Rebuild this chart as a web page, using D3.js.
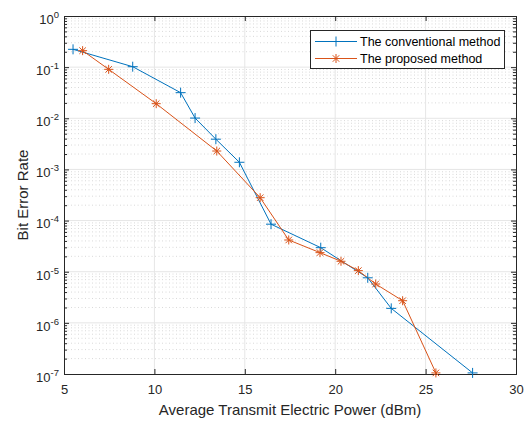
<!DOCTYPE html>
<html><head><meta charset="utf-8">
<script src="https://cdn.jsdelivr.net/npm/d3@7"></script>
<style>body{margin:0;background:#fff;} svg{display:block;font-family:"Liberation Sans",Arial,sans-serif;}</style>
</head><body><svg id="c" width="526" height="421"></svg>
<script>
const convX = [5.5, 8.8, 11.45, 12.25, 13.4, 14.7, 16.45, 19.2, 21.8, 23.1, 27.6];
const convY = [0.223, 0.102, 0.0317, 0.0101, 0.0039, 0.00138, 8.5e-5, 2.95e-5, 7.6e-6, 1.92e-6, 1.05e-7];
const propX = [6.03, 7.47, 10.1, 13.45, 15.85, 17.43, 19.16, 20.32, 21.28, 22.24, 23.73, 25.57];
const propY = [0.21, 0.0906, 0.0193, 0.00229, 2.8e-4, 4.17e-5, 2.36e-5, 1.6e-5, 1.05e-5, 5.75e-6, 2.71e-6, 1.05e-7];
const xTicks = [5, 10, 15, 20, 25, 30];
const yExps = [0, -1, -2, -3, -4, -5, -6, -7];
const seriesNames = ["The conventional method", "The proposed method"];
const colors = ["#0072BD", "#D95319"];

const svg = d3.select("#c");
const L = 64, R = 516, T = 16, B = 374;
const x = d3.scaleLinear().domain([5, 30]).range([L, R]);
const y = d3.scaleLog().domain([1e-7, 1]).range([B, T]);
const axisCol = "#262626";
const FF = "Liberation Sans, Arial, sans-serif";

// minor horizontal grid
const minorVals = [];
for (let e = -7; e < 0; e++) for (let k = 2; k <= 9; k++) minorVals.push(k * Math.pow(10, e));
svg.append("g").selectAll("line").data(minorVals).join("line")
  .attr("x1", L).attr("x2", R).attr("y1", d => y(d)).attr("y2", d => y(d))
  .attr("stroke", "#d9d9d9").attr("stroke-width", 1).attr("stroke-dasharray", "1,2.5");
// major grid
svg.append("g").selectAll("line").data(yExps.slice(1, -1)).join("line")
  .attr("x1", L).attr("x2", R).attr("y1", d => y(Math.pow(10, d))).attr("y2", d => y(Math.pow(10, d)))
  .attr("stroke", "#e6e6e6").attr("stroke-width", 1);
svg.append("g").selectAll("line").data(xTicks.slice(1, -1)).join("line")
  .attr("y1", T).attr("y2", B).attr("x1", d => x(d)).attr("x2", d => x(d))
  .attr("stroke", "#e6e6e6").attr("stroke-width", 1);

// axes (inner ticks)
const gx = svg.append("g").attr("transform", `translate(0,${B})`)
  .call(d3.axisBottom(x).tickValues(xTicks).tickSize(-5).tickPadding(0).tickFormat(d3.format("d")));
const gxt = svg.append("g").attr("transform", `translate(0,${T})`)
  .call(d3.axisTop(x).tickValues(xTicks).tickSize(-5).tickFormat(""));
const yMajor = yExps.map(e => Math.pow(10, e));
const gy = svg.append("g").attr("transform", `translate(${L},0)`)
  .call(d3.axisLeft(y).tickValues(yMajor).tickSize(-5).tickFormat(""));
const gym = svg.append("g").attr("transform", `translate(${L},0)`)
  .call(d3.axisLeft(y).tickValues(minorVals).tickSize(-3).tickFormat(""));
const gyr = svg.append("g").attr("transform", `translate(${R},0)`)
  .call(d3.axisRight(y).tickValues(yMajor).tickSize(-5).tickFormat(""));
const gyrm = svg.append("g").attr("transform", `translate(${R},0)`)
  .call(d3.axisRight(y).tickValues(minorVals).tickSize(-3).tickFormat(""));
[gx, gxt, gy, gym, gyr, gyrm].forEach(g => {
  g.select(".domain").attr("stroke", axisCol).attr("stroke-width", 1);
  g.selectAll(".tick line").attr("stroke", axisCol).attr("stroke-width", 1);
});
gx.selectAll(".tick text").attr("fill", axisCol).attr("font-size", 13).attr("font-family", FF)
  .attr("y", 20).attr("dy", 0);

// y tick labels 10^n
gy.selectAll(".tick").each(function(d) {
  const e = Math.round(Math.log10(d));
  const t = d3.select(this).append("text").attr("x", -5).attr("y", 7.3).attr("fill", axisCol)
    .attr("text-anchor", "end").attr("font-size", 13).attr("font-family", FF);
  t.append("tspan").text("10");
  t.append("tspan").attr("dy", -6).attr("font-size", 9.5).text(String(e));
});

// lines
const line = d3.line().x(d => x(d[0])).y(d => y(d[1]));
const data = [d3.zip(convX, convY), d3.zip(propX, propY)];
data.forEach((dd, i) => {
  svg.append("path").datum(dd).attr("d", line).attr("fill", "none")
    .attr("stroke", colors[i]).attr("stroke-width", 1);
});
function plus(g, cx, cy, c) {
  const s = 5;
  g.append("path").attr("d", `M${cx - s},${cy}H${cx + s}M${cx},${cy - s}V${cy + s}`)
    .attr("stroke", c).attr("stroke-width", 1).attr("fill", "none");
}
function star(g, cx, cy, c) {
  const s = 4.5, d = s * 0.72;
  g.append("path").attr("d", `M${cx - s},${cy}H${cx + s}M${cx},${cy - s}V${cy + s}M${cx - d},${cy - d}L${cx + d},${cy + d}M${cx - d},${cy + d}L${cx + d},${cy - d}`)
    .attr("stroke", c).attr("stroke-width", 1).attr("fill", "none");
}
const mg = svg.append("g");
data[0].forEach(p => plus(mg, x(p[0]), y(p[1]), colors[0]));
data[1].forEach(p => star(mg, x(p[0]), y(p[1]), colors[1]));

// axis labels
svg.append("text").attr("x", (L + R) / 2).attr("y", 415).attr("text-anchor", "middle")
  .attr("font-size", 15).attr("fill", axisCol).text("Average Transmit Electric Power (dBm)");
svg.append("text").attr("transform", `translate(28,${(T + B) / 2}) rotate(-90)`).attr("text-anchor", "middle")
  .attr("font-size", 15).attr("fill", axisCol).text("Bit Error Rate");

// legend
const lg = svg.append("g");
lg.append("rect").attr("x", 310.5).attr("y", 30.5).attr("width", 194).attr("height", 38)
  .attr("fill", "#fff").attr("stroke", axisCol).attr("stroke-width", 1);
seriesNames.forEach((n, i) => {
  const ly = 41.5 + i * 17;
  lg.append("line").attr("x1", 315).attr("x2", 357).attr("y1", ly).attr("y2", ly)
    .attr("stroke", colors[i]).attr("stroke-width", 1);
  if (i === 0) plus(lg, 336, ly, colors[i]); else star(lg, 336, ly, colors[i]);
  lg.append("text").attr("x", 360).attr("y", ly).attr("dy", "0.36em").attr("font-size", 12.5)
    .attr("fill", "#000").text(n);
});
</script></body></html>
